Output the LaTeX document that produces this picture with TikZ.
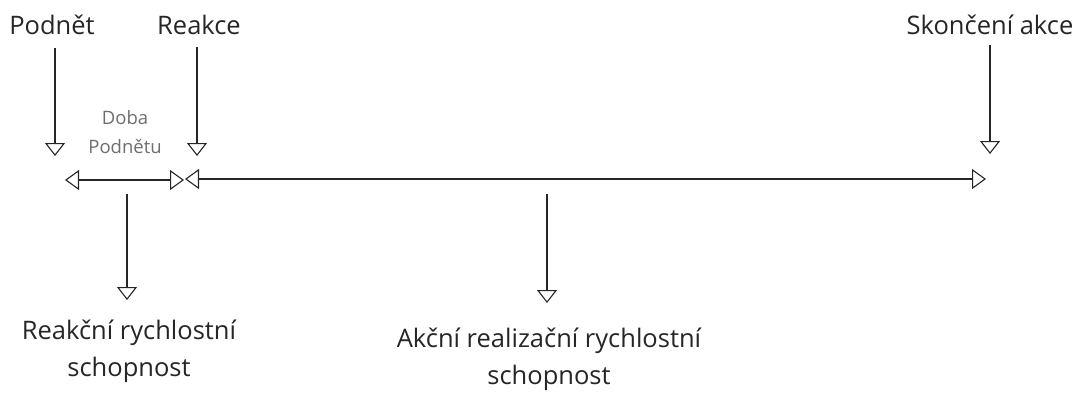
\documentclass[tikz,border=0pt]{standalone}
\usepackage{fontspec}
\setmainfont{Open Sans}
\usetikzlibrary{arrows.meta}
\definecolor{ink}{HTML}{262626}
\definecolor{soft}{HTML}{6E6E6E}
\begin{document}
\begin{tikzpicture}[x=1pt,y=-1pt,
  tip/.style={-{Triangle[open,length=13pt,width=20pt,fill=white]}},
  dtip/.style={{Triangle[open,length=14pt,width=20pt,fill=white]}-{Triangle[open,length=14pt,width=20pt,fill=white]}},
  conn/.style={draw=ink,line width=1.1pt},
  lbl/.style={font=\fontsize{25.5}{37}\selectfont,text=ink,inner sep=0pt,align=center},
  small/.style={font=\fontsize{18.5}{29}\selectfont,text=soft,inner sep=0pt,align=center}]
\useasboundingbox (0,0) rectangle (1083,392);
% labels
\node[lbl] (podnet) at (52,25) {Podnět};
\node[lbl] (reakce) at (199,25) {Reakce};
\node[lbl] (skonceni) at (990,25) {Skončení akce};
\node[small] (doba) at (125,132) {Doba\\Podnětu};
\node[lbl] (reakcni) at (129,351) {Reakční rychlostní\\schopnost};
\node[lbl] (akcni) at (549,359) {Akční realizační rychlostní\\schopnost};
% coordinates
\coordinate (p1) at (55,48);   \coordinate (p2) at (55,156);
\coordinate (r1) at (197,47);  \coordinate (r2) at (197,156);
\coordinate (s1) at (990,45);  \coordinate (s2) at (990,154);
\coordinate (a1) at (65,180);  \coordinate (a2) at (184,180);
\coordinate (b1) at (185,179); \coordinate (b2) at (986,179);
\coordinate (c1) at (127,194); \coordinate (c2) at (127,300);
\coordinate (d1) at (547,194); \coordinate (d2) at (547,303);
% connectors
\draw[conn,tip] (p1) -- (p2);
\draw[conn,tip] (r1) -- (r2);
\draw[conn,tip] (s1) -- (s2);
\draw[conn,dtip] (a1) -- (a2);
\draw[conn,dtip] (b1) -- (b2);
\draw[conn,tip] (c1) -- (c2);
\draw[conn,tip] (d1) -- (d2);
\end{tikzpicture}
\end{document}
